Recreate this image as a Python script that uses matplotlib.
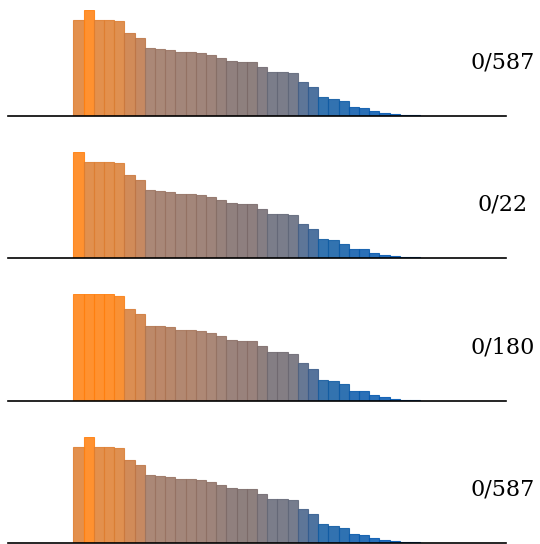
import numpy as np
import matplotlib
matplotlib.use("Agg")
import matplotlib.pyplot as plt
from matplotlib.colors import LinearSegmentedColormap

labels = ["0/587", "0/22", "0/180", "0/587"]

series_1 = [290, 320, 290, 290, 285, 250, 236, 205, 203, 200, 194, 194, 190, 185, 176, 165, 163,
            163, 149, 134, 134, 129, 104, 88, 58, 53, 45, 28, 26, 16, 11, 6, 3, 3]
series_2 = [320, 289, 289, 289, 285, 250, 236, 205, 202, 200, 194, 194, 190, 185, 176, 166, 162,
            162, 149, 134, 133, 129, 104, 88, 58, 54, 44, 29, 27, 15, 11, 6, 3, 3]
series_3 = [290, 290, 290, 290, 285, 250, 236, 205, 203, 200, 194, 194, 190, 185, 176, 165, 163,
            163, 149, 134, 134, 129, 104, 88, 58, 53, 45, 28, 26, 16, 11, 6, 3, 3]
series_4 = [290, 320, 290, 290, 285, 250, 236, 205, 203, 200, 194, 194, 190, 185, 176, 165, 163,
            163, 149, 134, 134, 129, 104, 88, 58, 53, 45, 28, 26, 16, 11, 6, 3, 3]
all_series = [series_1, series_2, series_3, series_4]

# blue -> grey -> orange colour ramp (by bar height relative to panel max)
ramp = LinearSegmentedColormap.from_list("ob", [
    (0.00, "#0056b3"),
    (0.18, "#115ca2"),
    (0.30, "#395c8b"),
    (0.41, "#626879"),
    (0.50, "#7a6a6a"),
    (0.64, "#9c7462"),
    (0.77, "#c8773f"),
    (0.90, "#db7e34"),
    (1.00, "#ff7f0e"),
])

W, H = 540, 544
fig = plt.figure(figsize=(W / 100, H / 100), dpi=100)

baselines = [116.3, 258.3, 401.0, 543.3]
ax_h = 106.7
x_left, x_right = 8, 506

for vals, lab, base in zip(all_series, labels, baselines):
    ax = fig.add_axes([x_left / W, 1 - base / H, (x_right - x_left) / W, ax_h / H])
    vals = np.asarray(vals, dtype=float)
    t = vals / vals.max()
    cols = [ramp(ti) for ti in t]
    x = np.arange(len(vals))
    ax.bar(x, vals, width=1.0, align="edge", color=cols, alpha=0.86,
           edgecolor=cols, linewidth=0.8)
    ax.set_xlim(-6.4, 42.4)
    ax.set_ylim(0, vals.max())
    for s in ["top", "right", "left"]:
        ax.spines[s].set_visible(False)
    ax.spines["bottom"].set_color("black")
    ax.spines["bottom"].set_linewidth(1.2)
    ax.set_xticks([])
    ax.set_yticks([])
    ax.patch.set_alpha(0)
    ax.text(0.993, 0.5, lab, transform=ax.transAxes, ha="center", va="center",
            fontsize=16, family="DejaVu Serif", clip_on=False)

fig.savefig("out.png", dpi=100)
